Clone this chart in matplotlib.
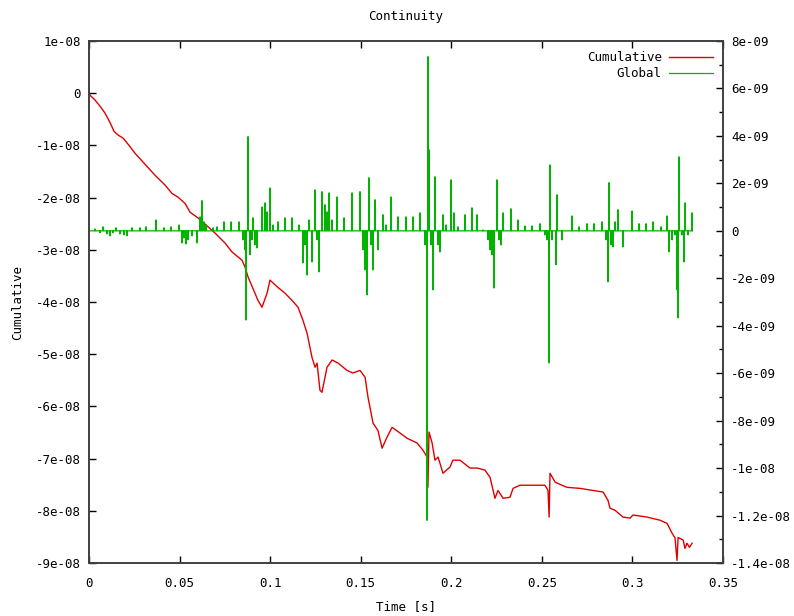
import numpy as np
import matplotlib
matplotlib.use("Agg")
import matplotlib.pyplot as plt

# Cumulative continuity error (units of 1e-8)
cum_t = [0.0000, 0.0006, 0.0033, 0.0061, 0.0088, 0.0116, 0.0138, 0.0160, 0.0188, 0.0221,
         0.0254, 0.0309, 0.0364, 0.0420, 0.0458, 0.0491, 0.0530, 0.0558, 0.0602, 0.0629,
         0.0696, 0.0751, 0.0789, 0.0845, 0.0861, 0.0872, 0.0878, 0.0905, 0.0933, 0.0955,
         0.0983, 0.0999, 0.1043, 0.1082, 0.1121, 0.1154, 0.1181, 0.1204, 0.1231, 0.1248,
         0.1259, 0.1275, 0.1286, 0.1314, 0.1342, 0.1375, 0.1424, 0.1457, 0.1496, 0.1524,
         0.1540, 0.1568, 0.1595, 0.1618, 0.1645, 0.1673, 0.1717, 0.1756, 0.1811, 0.1844,
         0.1866, 0.1871, 0.1877, 0.1894, 0.1910, 0.1927, 0.1954, 0.1993, 0.2009, 0.2048,
         0.2103, 0.2142, 0.2186, 0.2214, 0.2241, 0.2258, 0.2286, 0.2324, 0.2341, 0.2379,
         0.2451, 0.2517, 0.2534, 0.2540, 0.2545, 0.2573, 0.2611, 0.2639, 0.2711, 0.2782,
         0.2838, 0.2865, 0.2876, 0.2904, 0.2948, 0.2987, 0.3003, 0.3081, 0.3152, 0.3191,
         0.3219, 0.3235, 0.3246, 0.3252, 0.3280, 0.3290, 0.3301, 0.3315, 0.3329]
cum_v = [0.00, -0.04, -0.13, -0.25, -0.38, -0.56, -0.73, -0.80, -0.86, -1.00,
         -1.15, -1.36, -1.57, -1.76, -1.92, -1.99, -2.11, -2.28, -2.39, -2.47,
         -2.68, -2.87, -3.04, -3.20, -3.33, -3.45, -3.52, -3.74, -3.97, -4.10,
         -3.83, -3.58, -3.72, -3.83, -3.97, -4.10, -4.35, -4.60, -5.06, -5.25,
         -5.17, -5.69, -5.73, -5.25, -5.11, -5.17, -5.31, -5.36, -5.31, -5.44,
         -5.82, -6.32, -6.46, -6.80, -6.59, -6.40, -6.51, -6.61, -6.70, -6.84,
         -6.97, -7.55, -6.49, -6.70, -7.03, -6.97, -7.28, -7.16, -7.03, -7.03,
         -7.18, -7.18, -7.22, -7.36, -7.76, -7.61, -7.76, -7.74, -7.57, -7.51,
         -7.51, -7.51, -7.61, -8.12, -7.28, -7.45, -7.51, -7.55, -7.57, -7.61,
         -7.64, -7.80, -7.95, -7.99, -8.12, -8.14, -8.08, -8.12, -8.18, -8.24,
         -8.43, -8.52, -8.95, -8.51, -8.56, -8.72, -8.62, -8.70, -8.62]

# Global continuity error spikes (units of 1e-9), baseline is zero between them
glob_t = [0.0033, 0.0061, 0.0077, 0.0099, 0.0116, 0.0132, 0.0149, 0.0171, 0.0193, 0.0210,
          0.0237, 0.0282, 0.0315, 0.0370, 0.0414, 0.0453, 0.0497, 0.0513, 0.0524, 0.0536,
          0.0547, 0.0569, 0.0596, 0.0613, 0.0624, 0.0635, 0.0646, 0.0685, 0.0707, 0.0745,
          0.0784, 0.0828, 0.0850, 0.0861, 0.0867, 0.0878, 0.0889, 0.0900, 0.0905, 0.0916,
          0.0927, 0.0955, 0.0972, 0.0983, 0.0999, 0.1016, 0.1043, 0.1082, 0.1121, 0.1159,
          0.1181, 0.1192, 0.1204, 0.1215, 0.1231, 0.1248, 0.1259, 0.1270, 0.1286, 0.1303,
          0.1314, 0.1325, 0.1342, 0.1369, 0.1408, 0.1452, 0.1496, 0.1513, 0.1524, 0.1535,
          0.1546, 0.1557, 0.1568, 0.1579, 0.1596, 0.1623, 0.1640, 0.1667, 0.1706, 0.1750,
          0.1789, 0.1827, 0.1855, 0.1866, 0.1871, 0.1877, 0.1888, 0.1899, 0.1910, 0.1927,
          0.1938, 0.1954, 0.1971, 0.1998, 0.2015, 0.2037, 0.2076, 0.2114, 0.2142, 0.2175,
          0.2203, 0.2214, 0.2225, 0.2236, 0.2252, 0.2263, 0.2274, 0.2286, 0.2330, 0.2368,
          0.2407, 0.2446, 0.2490, 0.2517, 0.2528, 0.2540, 0.2545, 0.2556, 0.2578, 0.2584,
          0.2611, 0.2666, 0.2705, 0.2749, 0.2788, 0.2832, 0.2854, 0.2865, 0.2871, 0.2882,
          0.2893, 0.2904, 0.2920, 0.2948, 0.2998, 0.3036, 0.3075, 0.3114, 0.3158, 0.3191,
          0.3202, 0.3219, 0.3235, 0.3246, 0.3252, 0.3257, 0.3274, 0.3285, 0.3291, 0.3307,
          0.3329]
glob_v = [0.08, -0.08, 0.17, -0.13, -0.21, -0.08, 0.13, -0.13, -0.17, -0.21,
          0.13, 0.13, 0.17, 0.46, 0.13, 0.17, 0.25, -0.51, -0.30, -0.55,
          -0.38, -0.21, -0.51, 0.59, 1.27, 0.38, 0.25, 0.13, 0.17, 0.38,
          0.38, 0.38, -0.38, -0.80, -3.76, 3.97, -1.01, -0.38, 0.55, -0.59,
          -0.72, 1.01, 1.18, 0.80, 1.81, 0.25, 0.38, 0.55, 0.55, 0.25,
          -1.35, -0.59, -1.86, 0.46, -1.31, 1.73, -0.38, -1.73, 1.65, 1.10,
          0.80, 1.60, 0.46, 1.43, 0.55, 1.60, 1.65, -0.80, -1.65, -2.70,
          2.24, -0.59, -1.65, 1.31, -0.80, 0.68, 0.25, 1.43, 0.59, 0.59,
          0.59, 0.76, -0.59, -12.2, 7.34, 3.42, -0.59, -2.49, 2.28, -0.59,
          -0.89, 0.68, 0.25, 2.15, 0.76, 0.17, 0.68, 0.97, 0.68, 0.04,
          -0.38, -0.80, -1.01, -2.41, 2.15, -0.38, -0.59, 0.76, 0.93, 0.46,
          0.21, 0.21, 0.30, -0.17, -0.38, -5.57, 2.78, -0.38, -1.43, 1.52,
          -0.38, 0.63, 0.17, 0.30, 0.30, 0.38, -0.38, -2.15, 2.03, -0.59,
          -0.68, 0.38, 0.89, -0.68, 0.84, 0.30, 0.30, 0.38, 0.17, 0.63,
          -0.89, -0.38, -0.17, -2.49, -3.67, 3.12, -0.17, -1.31, 1.18, -0.17,
          0.76]

x_ticks = [0, 0.05, 0.1, 0.15, 0.2, 0.25, 0.3, 0.35]
x_labels = ["0", "0.05", "0.1", "0.15", "0.2", "0.25", "0.3", "0.35"]
y1_ticks = [1e-8, 0, -1e-8, -2e-8, -3e-8, -4e-8, -5e-8, -6e-8, -7e-8, -8e-8, -9e-8]
y1_labels = ["1e-08", "0", "-1e-08", "-2e-08", "-3e-08", "-4e-08", "-5e-08",
             "-6e-08", "-7e-08", "-8e-08", "-9e-08"]
y2_ticks = [8e-9, 6e-9, 4e-9, 2e-9, 0, -2e-9, -4e-9, -6e-9, -8e-9, -1e-8, -1.2e-8, -1.4e-8]
y2_labels = ["8e-09", "6e-09", "4e-09", "2e-09", "0", "-2e-09", "-4e-09", "-6e-09",
             "-8e-09", "-1e-08", "-1.2e-08", "-1.4e-08"]

plt.rcParams['font.family'] = 'DejaVu Sans Mono'
plt.rcParams['font.size'] = 9

# green series: each spike sits on the zero baseline
d = 0.00015
gt = [0.0]
gv = [0.0]
for t, v in zip(glob_t, glob_v):
    gt += [t - d, t, t + d]
    gv += [0.0, v * 1e-9, 0.0]

fig = plt.figure(figsize=(7.94, 6.16), dpi=100)
ax = fig.add_axes([0.1121, 0.0860, 0.7985, 0.8474])
ax2 = ax.twinx()

l1, = ax.plot(cum_t, np.array(cum_v) * 1e-8, color='#e00000', lw=1.0, label='Cumulative')
l2, = ax2.plot(gt, gv, color='#00b400', lw=0.9, label='Global')

ax.set_xlim(0, 0.35)
ax.set_ylim(-9e-8, 1e-8)
ax2.set_ylim(-1.4e-8, 8e-9)

ax.set_xticks(x_ticks)
ax.set_xticklabels(x_labels)
ax.set_yticks(y1_ticks)
ax.set_yticklabels(y1_labels)
ax2.set_yticks(y2_ticks)
ax2.set_yticklabels(y2_labels)
ax2.set_yticks(np.arange(-1.3e-8, 8e-9, 2e-9), minor=True)

ax.tick_params(axis='x', direction='in', top=True, length=5, width=1, pad=10)
ax.tick_params(axis='y', direction='in', right=False, length=5, width=1, pad=6)
ax2.tick_params(axis='y', which='major', direction='in', length=5, width=1, pad=6)
ax2.tick_params(axis='y', which='minor', direction='in', length=3, width=1)

for a in (ax, ax2):
    for s in a.spines.values():
        s.set_color('#404040')
        s.set_linewidth(1.2)

ax.set_title("Continuity", fontsize=9, pad=15)
ax.set_xlabel("Time [s]", labelpad=7)
ax.set_ylabel("Cumulative", labelpad=8)

ax2.legend([l1, l2], ['Cumulative', 'Global'], loc='upper right', frameon=False,
           markerfirst=False, handlelength=3.5, borderaxespad=0.4, labelspacing=0.25,
           handletextpad=0.6)

fig.savefig("out.png", dpi=100)
